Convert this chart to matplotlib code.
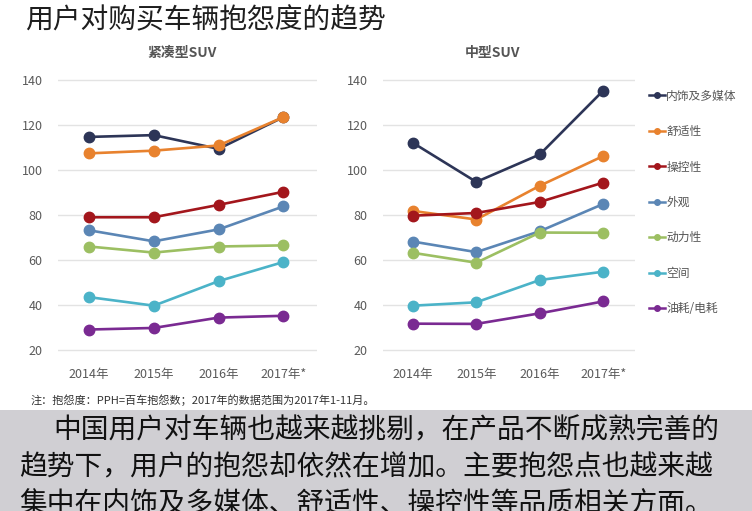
import matplotlib
matplotlib.use("Agg")
import matplotlib.pyplot as plt
from matplotlib.lines import Line2D
from matplotlib.patches import Rectangle

plt.rcParams["font.family"] = ["Noto Sans CJK SC", "DejaVu Sans"]

# ============================================================
# DATA
# ============================================================
years = ["2014年", "2015年", "2016年", "2017年*"]
series = ["内饰及多媒体", "舒适性", "操控性", "外观", "动力性", "空间", "油耗/电耗"]
colors = ["#2d3557", "#e8822e", "#a3161c", "#5b86b5", "#9cbf62", "#4bb3c8", "#7a2a92"]

compact_suv = {
    "内饰及多媒体": [114.7, 115.5, 109.4, 123.5],
    "舒适性":       [107.4, 108.6, 110.9, 123.5],
    "操控性":       [79.0, 79.0, 84.5, 90.3],
    "外观":         [73.2, 68.3, 73.6, 83.8],
    "动力性":       [66.0, 63.3, 66.0, 66.5],
    "空间":         [43.5, 39.7, 50.6, 59.1],
    "油耗/电耗":    [29.1, 29.8, 34.4, 35.2],
}
midsize_suv = {
    "内饰及多媒体": [112.1, 94.7, 106.9, 135.3],
    "舒适性":       [81.8, 78.0, 93.0, 106.2],
    "操控性":       [79.7, 80.9, 85.8, 94.4],
    "外观":         [68.2, 63.5, 72.8, 84.9],
    "动力性":       [63.2, 58.8, 72.2, 72.1],
    "空间":         [39.7, 41.2, 51.1, 54.8],
    "油耗/电耗":    [31.7, 31.6, 36.3, 41.6],
}
yticks = [20, 40, 60, 80, 100, 120, 140]

# ============================================================
# FIGURE
# ============================================================
W, H = 752, 511
fig = plt.figure(figsize=(W / 100, H / 100), dpi=100)
fig.patch.set_facecolor("white")


def px_axes(x0, x1, y_top, y_bot):
    return [x0 / W, 1 - y_bot / H, (x1 - x0) / W, (y_bot - y_top) / H]


# data 140 -> y=80px, 20 -> y=350px ; ylim 14..146
ax1 = fig.add_axes(px_axes(58, 317, 66.5, 363.5))
ax2 = fig.add_axes(px_axes(383, 635, 66.5, 363.5))

for ax, data, xl, title, tx in [
    (ax1, compact_suv, (-0.48, 3.52), "紧凑型SUV", 182),
    (ax2, midsize_suv, (-0.47, 3.5), "中型SUV", 493),
]:
    x = range(len(years))
    for i, (name, color) in enumerate(zip(series, colors)):
        ax.plot(x, data[name], color=color, linewidth=1.9, marker="o",
                markersize=7.5, zorder=3 + i, clip_on=False)
    ax.set_ylim(14, 146)
    ax.set_xlim(*xl)
    ax.set_yticks(yticks)
    ax.set_xticks(list(x))
    ax.set_xticklabels(years)
    ax.grid(axis="y", color="#e3e3e3", linewidth=1)
    ax.set_axisbelow(True)
    for s in ax.spines.values():
        s.set_visible(False)
    ax.tick_params(length=0, labelsize=9, colors="#5a5a5a")
    ax.tick_params(axis="y", pad=11)
    ax.tick_params(axis="x", pad=3)
    fig.text(tx / W, 1 - 53 / H, title, fontsize=10, color="#555555",
             fontweight="bold", ha="center", va="center")

# legend
handles = [Line2D([0], [0], color=c, linewidth=1.8, marker="o", markersize=4)
           for c in colors]
fig.legend(handles, series, loc="upper left", bbox_to_anchor=(638 / W, 1 - 79 / H),
           frameon=False, fontsize=8.5, labelspacing=1.9, handlelength=1.4,
           handletextpad=0.1, labelcolor="#555555")

# title
fig.text(25 / W, 1 - 20 / H, "用户对购买车辆抱怨度的趋势", fontsize=20,
         color="#1e1e1e", ha="left", va="center")

# note
fig.text(31 / W, 1 - 400 / H,
         "注：抱怨度：PPH=百车抱怨数；2017年的数据范围为2017年1-11月。",
         fontsize=8, color="#333333", ha="left", va="center")

# grey text box
fig.patches.append(Rectangle((0, 0), 1, 1 - 410 / H, transform=fig.transFigure,
                             facecolor="#d0cfd3", edgecolor="none", zorder=0))
fig.text(53 / W, 1 - 430 / H, "中国用户对车辆也越来越挑剔，在产品不断成熟完善的",
         fontsize=20, color="#111111", ha="left", va="center")
fig.text(19 / W, 1 - 467 / H, "趋势下，用户的抱怨却依然在增加。主要抱怨点也越来越",
         fontsize=20, color="#111111", ha="left", va="center")
fig.text(19 / W, 1 - 504 / H, "集中在内饰及多媒体、舒适性、操控性等品质相关方面。",
         fontsize=20, color="#111111", ha="left", va="center")

plt.savefig("out.png", dpi=100)
print("saved")
